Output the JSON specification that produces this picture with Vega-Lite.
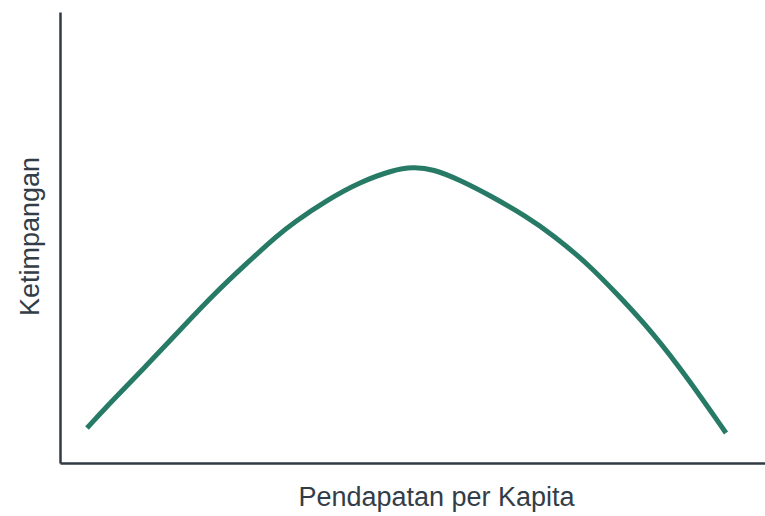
{
  "$schema": "https://vega.github.io/schema/vega-lite/v6.json",
  "autosize": "none",
  "width": 705,
  "height": 451,
  "padding": {"left": 60, "top": 12, "right": 0, "bottom": 53},
  "background": "white",
  "config": {
    "view": {"stroke": null},
    "font": "Liberation Sans",
    "axis": {"domainColor": "#2f3a44", "domainWidth": 2.5, "ticks": false, "labels": false, "grid": false, "titleFont": "Liberation Sans", "titleFontWeight": "normal", "titleColor": "#333d47", "titleFontSize": 27}
  },
  "data": {"values": [
    {"pendapatan": 27, "ketimpangan": 35},
    {"pendapatan": 53, "ketimpangan": 63},
    {"pendapatan": 87, "ketimpangan": 98},
    {"pendapatan": 120, "ketimpangan": 133},
    {"pendapatan": 153, "ketimpangan": 168},
    {"pendapatan": 187, "ketimpangan": 200},
    {"pendapatan": 218, "ketimpangan": 228},
    {"pendapatan": 233, "ketimpangan": 240},
    {"pendapatan": 267, "ketimpangan": 263},
    {"pendapatan": 300, "ketimpangan": 281},
    {"pendapatan": 333, "ketimpangan": 293},
    {"pendapatan": 353, "ketimpangan": 296},
    {"pendapatan": 373, "ketimpangan": 294},
    {"pendapatan": 400, "ketimpangan": 283},
    {"pendapatan": 433, "ketimpangan": 266},
    {"pendapatan": 467, "ketimpangan": 246},
    {"pendapatan": 493, "ketimpangan": 228},
    {"pendapatan": 527, "ketimpangan": 200},
    {"pendapatan": 560, "ketimpangan": 166},
    {"pendapatan": 593, "ketimpangan": 130},
    {"pendapatan": 627, "ketimpangan": 86},
    {"pendapatan": 666, "ketimpangan": 30}
  ]},
  "mark": {"type": "line", "color": "#277b66", "strokeWidth": 5, "interpolate": "basis", "strokeCap": "butt"},
  "encoding": {
    "x": {"field": "pendapatan", "type": "quantitative", "scale": {"domain": [0, 705], "nice": false, "zero": false},
      "axis": {"title": "Pendapatan per Kapita", "titleX": 376, "titleAnchor": "middle", "titlePadding": 21}},
    "y": {"field": "ketimpangan", "type": "quantitative", "scale": {"domain": [0, 451], "nice": false, "zero": false},
      "axis": {"title": "Ketimpangan", "titleY": 224, "titleAnchor": "middle", "titlePadding": 16}}
  }
}
